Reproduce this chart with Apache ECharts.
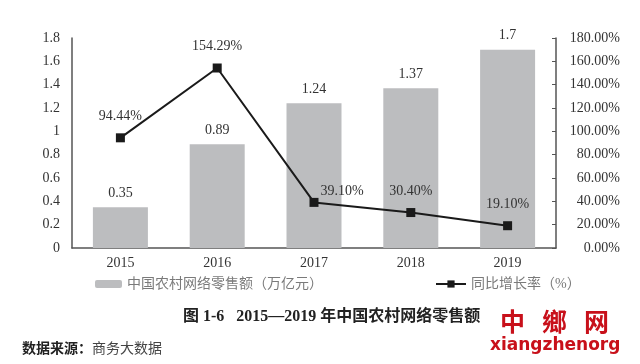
<!DOCTYPE html>
<html><head><meta charset="utf-8">
<script src="https://cdn.jsdelivr.net/npm/echarts@6/dist/echarts.min.js"></script>
<style>html,body{margin:0;padding:0;background:#fff}#c{width:640px;height:364px}</style>
</head><body><div id="c"></div>
<script>
var years = ['2015','2016','2017','2018','2019'];
var retailSales = [0.35, 0.89, 1.24, 1.37, 1.7];
var growthRate = [94.44, 154.29, 39.10, 30.40, 19.10];
var barName = '中国农村网络零售额（万亿元）';
var lineName = '同比增长率（%）';
var titleText = '图 1-6   2015—2019 年中国农村网络零售额';
var sourceBold = '数据来源：';
var sourceText = '商务大数据';
var markChars = ['中', '鄉', '网'];
var markLatin = 'xiangzhenorg';

var serif = '"Liberation Serif", "Noto Sans CJK SC", serif';
var chart = echarts.init(document.getElementById('c'), null, {renderer:'canvas'});
var graphics = [
  {type: 'text', left: 183, top: 309,
   style: {text: titleText, font: 'bold 16px "Liberation Serif", "Noto Sans CJK SC", serif', fill: '#222'}},
  {type: 'text', left: 22, top: 341,
   style: {text: sourceBold, font: 'bold 14px "Noto Sans CJK SC", sans-serif', fill: '#222'}},
  {type: 'text', left: 92, top: 341,
   style: {text: sourceText, font: '14px "Noto Sans CJK SC", sans-serif', fill: '#444'}},
  {type: 'text', left: 490, top: 337,
   style: {text: markLatin, font: 'bold 17px "DejaVu Sans", sans-serif', fill: '#c8101a'}}
];
markChars.forEach(function(ch, i){
  graphics.push({type: 'text', left: 500 + i * 42, top: 309,
    style: {text: ch, font: 'bold 25px "Noto Sans CJK SC", sans-serif', fill: '#c8101a'}});
});
chart.setOption({
  animation: false,
  backgroundColor: '#fff',
  grid: {left: 72, right: 84, top: 38, bottom: 116},
  legend: [
    {data: [barName], left: 90, top: 272, itemWidth: 27, itemHeight: 8, itemGap: 10,
     textStyle: {fontFamily: serif, fontSize: 14, color: '#7a7a7a'}},
    {data: [lineName], left: 430, top: 272, itemWidth: 30, itemHeight: 9,
     textStyle: {fontFamily: serif, fontSize: 14, color: '#7a7a7a'}}
  ],
  xAxis: {
    type: 'category', data: years,
    axisLine: {lineStyle: {color: '#555', width: 1.5}},
    axisTick: {show: false},
    axisLabel: {fontFamily: serif, fontSize: 14, color: '#333', margin: 8}
  },
  yAxis: [
    {type: 'value', min: 0, max: 1.8, interval: 0.2,
     axisLine: {show: true, lineStyle: {color: '#555', width: 1.5}},
     axisTick: {show: false}, splitLine: {show: false},
     axisLabel: {fontFamily: serif, fontSize: 14, color: '#333', margin: 12}},
    {type: 'value', min: 0, max: 180, interval: 20,
     axisLine: {show: true, lineStyle: {color: '#555', width: 1.5}},
     axisTick: {show: true, inside: true, length: 4, lineStyle: {color: '#555'}},
     splitLine: {show: false},
     axisLabel: {fontFamily: serif, fontSize: 14, color: '#333', margin: 64, align: 'right',
       formatter: function(v){ return v.toFixed(2) + '%'; }}}
  ],
  series: [
    {name: barName, type: 'bar', data: retailSales, barWidth: 55,
     itemStyle: {color: '#bcbdbf'},
     label: {show: true, position: 'top', distance: 7, fontFamily: serif, fontSize: 14, color: '#333'}},
    {name: lineName, type: 'line', yAxisIndex: 1, data: growthRate,
     symbol: 'rect', symbolSize: 9,
     lineStyle: {color: '#1a1a1a', width: 2},
     itemStyle: {color: '#1a1a1a'},
     label: {show: true, position: 'top', distance: 10, fontFamily: serif, fontSize: 14, color: '#333',
       formatter: function(p){ return p.value.toFixed(2) + '%'; }},
     labelLayout: function(p){
       if (p.dataIndex === 2) { return {dx: 28, dy: 10}; }
       return {};
     }}
  ],
  graphic: graphics
});
</script></body></html>
